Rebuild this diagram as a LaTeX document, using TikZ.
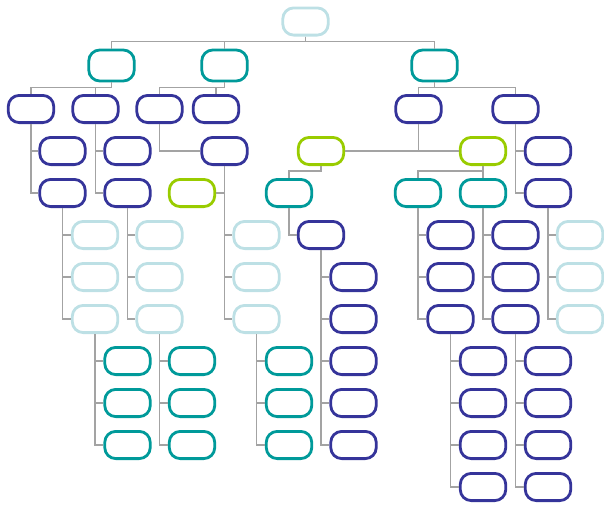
\documentclass[tikz,border=0pt]{standalone}
\usepackage{tikz}
\usetikzlibrary{positioning}
\definecolor{paleblue}{HTML}{BDE0E5}
\definecolor{seateal}{HTML}{009A9A}
\definecolor{inkblue}{HTML}{35349A}
\definecolor{leafgreen}{HTML}{99CC00}
\begin{document}
\begin{tikzpicture}[
  x=1pt, y=-1pt,
  node distance=12pt,
  box/.style={draw, line width=2.8pt, outer sep=1.4pt, rounded corners=11pt, fill=white, minimum width=45.5pt, minimum height=27.2pt, inner sep=0pt},
  pale/.style={box, draw=paleblue},
  sea/.style={box, draw=seateal},
  ink/.style={box, draw=inkblue},
  leaf/.style={box, draw=leafgreen},
  link/.style={draw=gray!72, line width=1.1pt}
]
\useasboundingbox (0,0) rectangle (604,506);
% top levels
\node[pale] (root) at (305.5,21.5) {};
\node[sea, minimum height=31pt] (ta) at (111.5,65.5) {};
\node[sea, minimum height=31pt] (tb) at (224.5,65.5) {};
\node[sea, minimum height=31pt] (tc) at (434.5,65.5) {};
\node[ink] (a1) at (31,109) {};
\node[ink] (a2) at (95.5,109) {};
\node[ink] (a3) at (159.5,109) {};
\node[ink] (a4) at (216,109) {};
\node[ink] (a5) at (418.5,109) {};
\node[ink] (a6) at (515.5,109) {};
% left branch
\node[ink, below=of a1, xshift=31.5pt] (a1x) {};
\node[ink, below=of a1x] (a1y) {};
\node[ink, below=of a2, xshift=32pt] (a2x) {};
\node[ink, below=of a2x] (a2y) {};
\node[pale, below=of a1y, xshift=32.5pt] (p1a) {};
\node[pale, below=of p1a] (p1b) {};
\node[pale, below=of p1b] (p1c) {};
\node[pale, below=of a2y, xshift=32pt] (p2a) {};
\node[pale, below=of p2a] (p2b) {};
\node[pale, below=of p2b] (p2c) {};
\node[sea, below=of p1c, xshift=32.5pt] (s1a) {};
\node[sea, below=of s1a] (s1b) {};
\node[sea, below=of s1b] (s1c) {};
\node[sea, below=of p2c, xshift=32.5pt] (s2a) {};
\node[sea, below=of s2a] (s2b) {};
\node[sea, below=of s2b] (s2c) {};
% middle branch
\node[ink, below=of a3, xshift=65pt] (a3x) {};
\node[leaf, below=of a3x, xshift=-32.5pt] (g3) {};
\node[pale, below=54pt of a3x, xshift=32pt] (p3a) {};
\node[pale, below=of p3a] (p3b) {};
\node[pale, below=of p3b] (p3c) {};
\node[sea, below=of p3c, xshift=32.5pt] (s3a) {};
\node[sea, below=of s3a] (s3b) {};
\node[sea, below=of s3b] (s3c) {};
% right branch
\node[leaf] (g1) at (321,151) {};
\node[leaf] (g2) at (483,151) {};
\node[sea, below=of g1, xshift=-32pt] (tl) {};
\node[ink, below=of tl, xshift=32pt] (il) {};
\node[ink, below=of il, xshift=32.5pt] (ila) {};
\node[ink, below=of ila] (ilb) {};
\node[ink, below=of ilb] (ilc) {};
\node[ink, below=of ilc] (ild) {};
\node[ink, below=of ild] (ile) {};
\node[sea, below=of g2, xshift=-65pt] (tr1) {};
\node[sea, below=of g2] (tr2) {};
\node[ink, below=of tr1, xshift=32.5pt] (r1a) {};
\node[ink, below=of r1a] (r1b) {};
\node[ink, below=of r1b] (r1c) {};
\node[ink, below=of tr2, xshift=32.5pt] (r2a) {};
\node[ink, below=of r2a] (r2b) {};
\node[ink, below=of r2b] (r2c) {};
\node[ink, below=of r1c, xshift=32.5pt] (q1a) {};
\node[ink, below=of q1a] (q1b) {};
\node[ink, below=of q1b] (q1c) {};
\node[ink, below=of q1c] (q1d) {};
\node[ink, below=of r2c, xshift=32.5pt] (q2a) {};
\node[ink, below=of q2a] (q2b) {};
\node[ink, below=of q2b] (q2c) {};
\node[ink, below=of q2c] (q2d) {};
\node[ink, below=of a6, xshift=32.5pt] (a6x) {};
\node[ink, below=of a6x] (a6y) {};
\node[pale, below=of a6y, xshift=32pt] (p6a) {};
\node[pale, below=of p6a] (p6b) {};
\node[pale, below=of p6b] (p6c) {};

% buses
\draw[link] (root.south) -- ++(0,5) -| (ta.north);
\draw[link] (root.south) -- ++(0,5) -| (tb.north);
\draw[link] (root.south) -- ++(0,5) -| (tc.north);
\draw[link] (ta.south) -- ++(0,5) -| (a1.north);
\draw[link] (ta.south) -- ++(0,5) -| (a2.north);
\draw[link] (tb.south) -- ++(0,5) -| (a3.north);
\draw[link] (tb.south) -- ++(0,5) -| (a4.north);
\draw[link] (tc.south) -- ++(0,5) -| (a5.north);
\draw[link] (tc.south) -- ++(0,5) -| (a6.north);
\draw[link] (g1.south) -- ++(0,5) -| (tl.north);
\draw[link] (g2.south) -- ++(0,5) -| (tr1.north);
\draw[link] (g2.south) -- ++(0,5) -| (tr2.north);
% hanging links
\draw[link] (a1.south) |- (a1x.west);
\draw[link] (a1.south) |- (a1y.west);
\draw[link] (a2.south) |- (a2x.west);
\draw[link] (a2.south) |- (a2y.west);
\draw[link] (a1y.south) |- (p1a.west);
\draw[link] (a1y.south) |- (p1b.west);
\draw[link] (a1y.south) |- (p1c.west);
\draw[link] (a2y.south) |- (p2a.west);
\draw[link] (a2y.south) |- (p2b.west);
\draw[link] (a2y.south) |- (p2c.west);
\draw[link] (p1c.south) |- (s1a.west);
\draw[link] (p1c.south) |- (s1b.west);
\draw[link] (p1c.south) |- (s1c.west);
\draw[link] (p2c.south) |- (s2a.west);
\draw[link] (p2c.south) |- (s2b.west);
\draw[link] (p2c.south) |- (s2c.west);
\draw[link] (a3.south) |- (a3x.west);
\draw[link] (a3x.south) |- (g3.east);
\draw[link] (a3x.south) |- (p3a.west);
\draw[link] (a3x.south) |- (p3b.west);
\draw[link] (a3x.south) |- (p3c.west);
\draw[link] (p3c.south) |- (s3a.west);
\draw[link] (p3c.south) |- (s3b.west);
\draw[link] (p3c.south) |- (s3c.west);
\draw[link] (a5.south) |- (g1.east);
\draw[link] (a5.south) |- (g2.west);
\draw[link] (tl.south) |- (il.west);
\draw[link] (il.south) |- (ila.west);
\draw[link] (il.south) |- (ilb.west);
\draw[link] (il.south) |- (ilc.west);
\draw[link] (il.south) |- (ild.west);
\draw[link] (il.south) |- (ile.west);
\draw[link] (tr1.south) |- (r1a.west);
\draw[link] (tr1.south) |- (r1b.west);
\draw[link] (tr1.south) |- (r1c.west);
\draw[link] (tr2.south) |- (r2a.west);
\draw[link] (tr2.south) |- (r2b.west);
\draw[link] (tr2.south) |- (r2c.west);
\draw[link] (r1c.south) |- (q1a.west);
\draw[link] (r1c.south) |- (q1b.west);
\draw[link] (r1c.south) |- (q1c.west);
\draw[link] (r1c.south) |- (q1d.west);
\draw[link] (r2c.south) |- (q2a.west);
\draw[link] (r2c.south) |- (q2b.west);
\draw[link] (r2c.south) |- (q2c.west);
\draw[link] (r2c.south) |- (q2d.west);
\draw[link] (a6.south) |- (a6x.west);
\draw[link] (a6.south) |- (a6y.west);
\draw[link] (a6y.south) |- (p6a.west);
\draw[link] (a6y.south) |- (p6b.west);
\draw[link] (a6y.south) |- (p6c.west);
\end{tikzpicture}
\end{document}
